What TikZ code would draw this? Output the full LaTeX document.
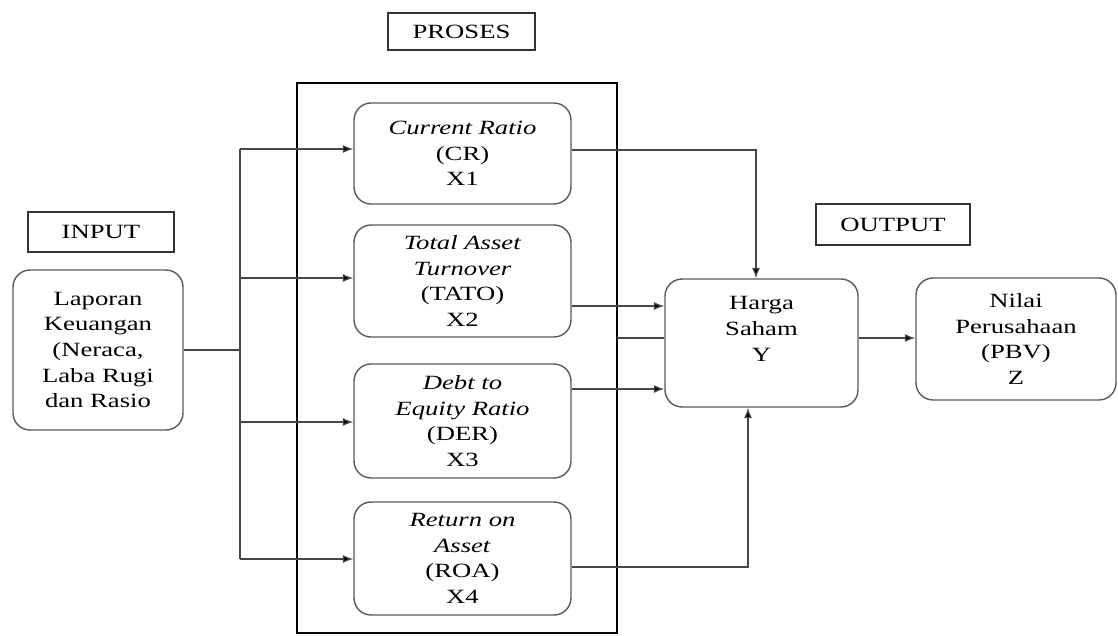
\documentclass[tikz,border=0pt]{standalone}
\usepackage{fontspec}
\setmainfont[FakeStretch=1.32]{Liberation Serif}
\usetikzlibrary{arrows.meta}
\begin{document}
\begin{tikzpicture}[x=0.02cm,y=-0.02cm,
  txt/.style={font=\fontsize{11.5}{14.6}\selectfont, align=center, text=black},
  rbox/.style={txt, draw=black!65, line width=0.8pt, rounded corners=0.34cm, inner sep=0pt},
  lbl/.style={txt, draw=black!80, line width=0.7pt, inner sep=0pt},
  conn/.style={draw=black!72, line width=0.7pt},
  arr/.style={conn, -{Latex[length=0.21cm,width=0.16cm,fill=black]}}]
\useasboundingbox (0,0) rectangle (1118,635);
% process frame
\draw[black, line width=0.7pt] (297,83) rectangle (617,633);
% labels
\node[lbl, minimum width=2.94cm, minimum height=0.74cm] (proses) at (461.5,31.5) {PROSES};
\node[lbl, minimum width=2.92cm, minimum height=0.8cm] (input) at (101,232) {INPUT};
\node[lbl, minimum width=3.08cm, minimum height=0.82cm] (output) at (893,224.5) {OUTPUT};
% boxes
\node[rbox, minimum width=3.4cm, minimum height=3.2cm] (lap) at (98,350) {Laporan\\Keuangan\\(Neraca,\\Laba Rugi\\dan Rasio};
\node[rbox, minimum width=4.34cm, minimum height=2.02cm] (cr) at (462.5,153.5) {\textit{Current Ratio}\\(CR)\\X1};
\node[rbox, minimum width=4.34cm, minimum height=2.24cm] (tato) at (462.5,281) {\textit{Total Asset}\\\textit{Turnover}\\(TATO)\\X2};
\node[rbox, minimum width=4.34cm, minimum height=2.28cm] (der) at (462.5,421) {\textit{Debt to}\\\textit{Equity Ratio}\\(DER)\\X3};
\node[rbox, minimum width=4.34cm, minimum height=2.26cm] (roa) at (462.5,558.5) {\textit{Return on}\\\textit{Asset}\\(ROA)\\X4};
\node[rbox, minimum width=3.86cm, minimum height=2.56cm] (harga) at (761.5,343) {};
\node[txt] (hargatxt) at (761.5,329) {Harga\\Saham\\Y};
\node[rbox, minimum width=4.0cm, minimum height=2.44cm] (nilai) at (1016,339) {Nilai\\Perusahaan\\(PBV)\\Z};
% input distribution
\coordinate (sp) at (240,350);
\coordinate (vt) at (240,149);
\coordinate (vb) at (240,559);
\coordinate (a2) at (240,278);
\coordinate (a3) at (240,422);
\draw[conn] (lap.east) -- (sp);
\draw[conn] (vt) -- (vb);
\draw[arr] (vt) -- (vt -| cr.west);
\draw[arr] (a2) -- (a2 -| tato.west);
\draw[arr] (a3) -- (a3 -| der.west);
\draw[arr] (vb) -- (vb -| roa.west);
% to harga saham
\coordinate (k1) at (756,150);
\coordinate (k2) at (0,306);
\coordinate (k3) at (617,338);
\coordinate (kd) at (0,389);
\coordinate (k4) at (748,567);
\coordinate (k5) at (0,338);
\draw[arr] (k1 -| cr.east) -- (k1) -- (k1 |- harga.north);
\draw[arr] (k2 -| tato.east) -- (k2 -| harga.west);
\draw[conn] (k3) -- (k3 -| harga.west);
\draw[arr] (kd -| der.east) -- (kd -| harga.west);
\draw[arr] (k4 -| roa.east) -- (k4) -- (k4 |- harga.south);
\draw[arr] (k5 -| harga.east) -- (k5 -| nilai.west);
\end{tikzpicture}
\end{document}
